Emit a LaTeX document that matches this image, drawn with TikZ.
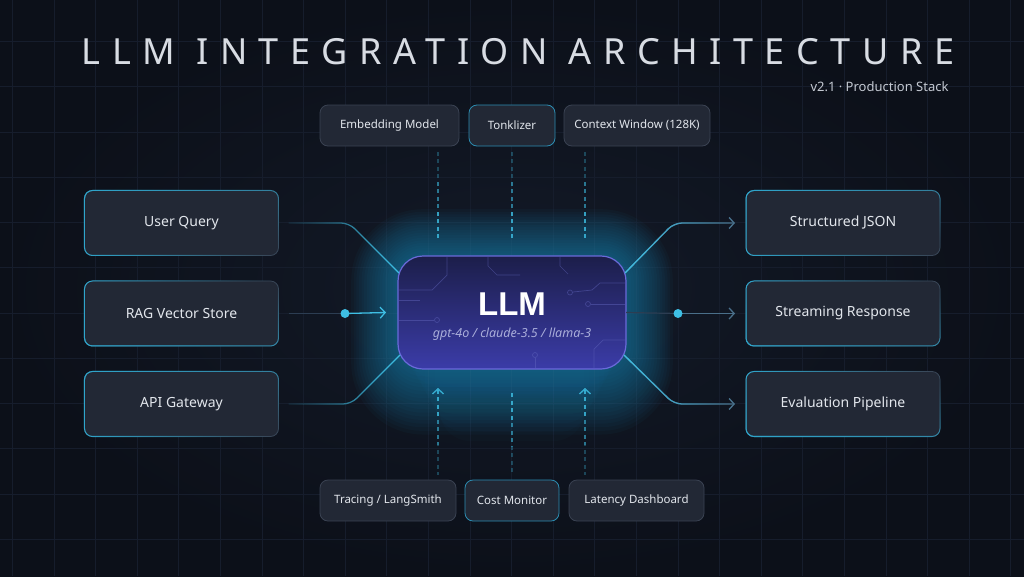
\documentclass[tikz,border=0pt]{standalone}
\usepackage{fontspec}
\setmainfont{Noto Sans}
\newfontfamily\llmfont{Liberation Sans}
\usetikzlibrary{arrows.meta,fadings,calc}
\definecolor{bgA}{HTML}{131A28}
\definecolor{bgB}{HTML}{0C1019}
\definecolor{gridc}{HTML}{161D2C}
\definecolor{boxfill}{HTML}{222835}
\definecolor{boxline}{HTML}{3A4252}
\definecolor{hlc}{HTML}{2FA6CC}
\definecolor{tokc}{HTML}{2C8DB2}
\definecolor{txt}{HTML}{E2E6EC}
\definecolor{titlec}{HTML}{D8DCE3}
\definecolor{subc}{HTML}{C4C9D2}
\definecolor{llmtop}{HTML}{1C1E4A}
\definecolor{llmbot}{HTML}{3B3CA8}
\definecolor{llmedge}{HTML}{6A6ADA}
\definecolor{llmsub}{HTML}{A9ADDA}
\definecolor{glowc}{HTML}{1B97C9}
\definecolor{cyanc}{HTML}{3EBFE4}
\definecolor{grayblue}{HTML}{4A6F8A}
\definecolor{faintc}{HTML}{2C3D52}
\definecolor{tracec}{HTML}{6468C0}
\tikzfading[name=fadeInL, left color=transparent!88, right color=transparent!0]
\tikzfading[name=fadeOutR, left color=transparent!0, right color=transparent!100]
\tikzfading[name=hlL, left color=transparent!0, middle color=transparent!85, right color=transparent!100]
\tikzfading[name=hlB, bottom color=transparent!0, middle color=transparent!90, top color=transparent!100]
\tikzfading[name=hlT, top color=transparent!0, middle color=transparent!90, bottom color=transparent!100]
\begin{document}
\begin{tikzpicture}[x=1pt,y=-1pt,
  box/.style={draw=boxline, fill=boxfill, rounded corners=8pt, line width=0.8pt, text=txt,
    font=\fontsize{14}{16}\selectfont, minimum width=194pt, minimum height=65pt, inner sep=0pt, outer sep=0pt},
  sbox/.style={box, font=\fontsize{11.5}{14}\selectfont, minimum height=41pt},
  hl/.style={draw=hlc, line width=1pt, rounded corners=8pt},
  conL/.style={draw=cyanc, line width=1.3pt, rounded corners=8pt, path fading=fadeInL},
  conRbase/.style={draw=grayblue, line width=1.3pt, rounded corners=8pt, -{Straight Barb[length=5pt,width=11pt]}},
  conRhl/.style={draw=cyanc, line width=1.3pt, rounded corners=8pt, path fading=fadeOutR, -{Straight Barb[length=5pt,width=11pt]}},
  faintline/.style={draw=faintc, line width=1.2pt},
  dotc/.style={fill=cyanc},
  dashln/.style={draw=cyanc, line width=1.3pt, dash pattern=on 4pt off 3.5pt},
  trace/.style={draw=tracec, line width=0.7pt, opacity=0.45},
]
\useasboundingbox (0,0) rectangle (1024,576);
\shade[inner color=bgA, outer color=bgB] (0,0) rectangle (1024,576);
% grid
\foreach \k in {-8,...,16} \draw[gridc, line width=0.6pt] ({345+41.6*\k},0) -- ({345+41.6*\k},576);
\foreach \k in {-5,...,8} \draw[gridc, line width=0.6pt] (0,{222.5+45.25*\k}) -- (1024,{222.5+45.25*\k});

% title
\node[text=titlec, font=\fontsize{36}{40}\selectfont\addfontfeature{LetterSpace=32}] (title) at (518,52) {LLM INTEGRATION ARCHITECTURE};
\node[anchor=east, text=subc, font=\fontsize{13}{15}\selectfont] (sub) at (952,87) {v2.1 · Production Stack};

% glow
\foreach \i in {1,...,18} {
  \pgfmathsetmacro{\d}{\i*2.6}
  \pgfmathsetmacro{\r}{25+\i*2.6}
  \fill[glowc, fill opacity=0.038, rounded corners=\r pt] ({398-\d},{256-\d}) rectangle ({626+\d},{369+\d*1.4});
}
\foreach \i in {1,...,8} {
  \pgfmathsetmacro{\d}{\i*5}
  \fill[glowc, fill opacity=0.025, rounded corners=30pt] ({400+\d},{300}) rectangle ({624-\d},{369+\i*9});
}

% side boxes
\node[box] (uq) at (181.5,223) {User Query};
\node[box] (rag) at (181.5,313.5) {RAG Vector Store};
\node[box] (api) at (181.5,404) {API Gateway};
\node[box] (sj) at (843,223) {Structured JSON};
\node[box] (sr) at (843,313.5) {Streaming Response};
\node[box] (ev) at (843,404) {Evaluation Pipeline};
\foreach \n in {uq,rag,api,sj,sr,ev} \draw[hl, path fading=hlL] (\n.north west) rectangle (\n.south east);
\foreach \n in {uq,api,sj} \draw[hl, path fading=hlT, draw opacity=0.6] (\n.north west) rectangle (\n.south east);
\foreach \n in {rag,sr,ev} \draw[hl, path fading=hlB, draw opacity=0.7] (\n.north west) rectangle (\n.south east);

% top and bottom boxes
\node[sbox, minimum width=139pt] (emb) at (389.5,125.5) {Embedding Model};
\node[sbox, minimum width=86pt, draw=tokc] (tok) at (512,125.5) {Tonklizer};
\node[sbox, minimum width=146pt] (ctx) at (637,125.5) {Context Window (128K)};
\node[sbox, minimum width=136pt] (trc) at (388,500.5) {Tracing / LangSmith};
\node[sbox, minimum width=94pt, draw=tokc] (cost) at (512,500.5) {Cost Monitor};
\node[sbox, minimum width=135pt] (lat) at (636.5,500.5) {Latency Dashboard};

% LLM core
\node[rounded corners=25pt, minimum width=228pt, minimum height=113pt, top color=llmtop, bottom color=llmbot,
  draw=llmedge, line width=1.2pt, inner sep=0pt, outer sep=0pt] (llm) at (512,312.5) {};
% circuit traces
\draw[trace] (399,290) -- (432,290) -- (447,275) -- (447,257);
\draw[trace] (488,257) -- (488,266) -- (497,275) -- (520,275);
\draw[trace] (625,283) -- (600,283) -- (592,290) -- (573,292);
\draw[trace] (570,292.5) circle (2.5pt);
\draw[trace] (625,304) -- (591,304);
\draw[trace] (588,304) circle (2.5pt);
\draw[trace] (399,320) -- (434,320);
\draw[trace] (437,320) circle (2.5pt);
\draw[trace] (535,368) -- (535,358);
\draw[trace] (535,355) circle (2.5pt);
\draw[trace] (625,340) -- (603,340) -- (594,349) -- (594,368);
\draw[trace] (399,300) -- (420,300);
\draw[trace] (560,257) -- (560,266) -- (568,274);
\node[text=white, font=\llmfont\fontsize{33}{36}\selectfont\bfseries] (llmt) at (512,304) {LLM};
\node[text=llmsub, font=\fontsize{12.5}{15}\selectfont\itshape] (llms) at (512,334) {gpt-4o / claude-3.5 / llama-3};

% connector points
\coordinate (cTL) at (399,273);
\coordinate (cBL) at (400,355);
\coordinate (cTR) at (625,273);
\coordinate (cBR) at (624,355);
\coordinate (bTL) at (349,223);
\coordinate (bBL) at (351,404);
\coordinate (bTR) at (674,223);
\coordinate (bBR) at (674,404);
\coordinate (dL) at (345,313.5);
\coordinate (dR) at (678,313.5);

% left connectors
\draw[conL] ($(uq.east)+(10,0)$) -- (bTL) -- (cTL);
\draw[conL] ($(api.east)+(10,0)$) -- (bBL) -- (cBL);
\draw[faintline] ($(rag.east)+(10,0)$) -- (dL);
\draw[draw=cyanc, line width=1.3pt, -{Straight Barb[length=5pt,width=11pt]}] (dL) -- ($(llm.west)+(-12,0)$);
\fill[dotc] (dL) circle (4.5pt);

% right connectors
\draw[conRbase] (cTR) -- (bTR) -- ($(sj.west)+(-11,0)$);
\draw[conRhl] (cTR) -- (bTR) -- ($(sj.west)+(-11,0)$);
\draw[conRbase] (cBR) -- (bBR) -- ($(ev.west)+(-11,0)$);
\draw[conRhl] (cBR) -- (bBR) -- ($(ev.west)+(-11,0)$);
\draw[faintline] (llm.east) -- (dR);
\draw[conRbase] (dR) -- ($(sr.west)+(-11,0)$);
\fill[dotc] (dR) circle (4.5pt);

% top dashed lines (bright near LLM)
\coordinate (t1) at (438,238);
\coordinate (t2) at (512,238);
\coordinate (t3) at (585,238);
\foreach \t/\b in {t1/emb,t2/tok,t3/ctx} {
  \foreach \f/\o in {1/0.3,0.66/0.4,0.33/0.55}
    \draw[dashln, draw opacity=\o] (\t) -- ($(\t)!\f!($(\b.south -| \t)+(0,3)$)$);
}
% bottom dashed lines
\coordinate (u1) at (438,388);
\coordinate (u2) at (512,393);
\coordinate (u3) at (585,388);
\foreach \t/\b in {u1/trc,u3/lat} {
  \foreach \f/\o in {1/0.3,0.66/0.4,0.33/0.55}
    \draw[dashln, draw opacity=\o, {Straight Barb[length=5pt,width=11pt]}-] (\t) -- ($(\t)!\f!($(\b.north -| \t)+(0,-5)$)$);
}
\foreach \f/\o in {1/0.3,0.66/0.4,0.33/0.55}
  \draw[dashln, draw opacity=\o] (u2) -- ($(u2)!\f!($(cost.north -| u2)+(0,-5)$)$);
\end{tikzpicture}
\end{document}
